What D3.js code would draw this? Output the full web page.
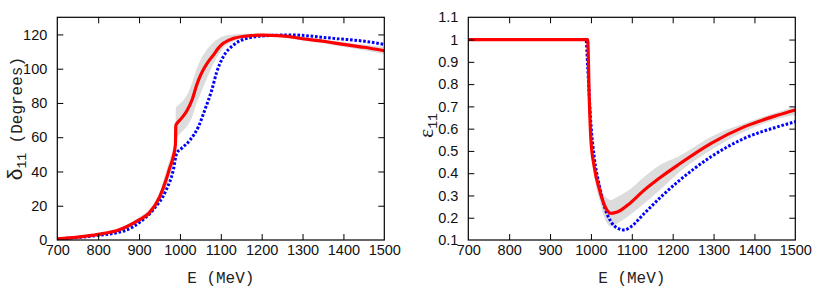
<!DOCTYPE html>
<html>
<head>
<meta charset="utf-8">
<script src="https://cdn.jsdelivr.net/npm/d3@7"></script>
<style>
  body { margin: 0; background: #fff; }
  svg { display: block; }
  .mono { font-family: "Liberation Mono", "Courier New", monospace; }
</style>
</head>
<body>
<svg width="822" height="288"></svg>
<script>
// ---- left panel: phase shift delta_11 (degrees) ----
const PHASE_E    = [700, 750, 800, 850, 900, 925, 950, 966, 975, 984, 989, 990, 1000, 1016, 1030, 1041, 1050, 1061, 1072, 1082, 1094, 1106, 1131, 1172, 1200, 1250, 1300, 1350, 1400, 1450, 1500];
const PHASE_RED  = [0.6, 1.7, 3.3, 5.8, 11.7, 15.8, 25, 35, 42, 49, 56, 67, 70, 75, 82, 90.5, 96, 101, 105, 108, 112, 114.8, 117.7, 119.3, 119.6, 119.2, 117.5, 116, 114.2, 112.5, 110.5];
const PHASE_LO   = [0.4, 1.3, 2.6, 4.9, 10.2, 14, 22.5, 31, 37.5, 44, 51, 58, 62, 66, 72, 80, 85, 91.5, 97.5, 103, 108, 112, 116, 118.2, 118.8, 118.3, 116.5, 114.8, 112.8, 110.7, 108.5];
const PHASE_HI   = [0.8, 2.1, 4.0, 6.8, 13.2, 17.8, 27.5, 40, 47, 53, 60, 77, 79.5, 84, 92, 100, 105, 109.5, 113, 115.5, 117.5, 119, 120, 120.6, 120.5, 120.2, 118.6, 117.2, 115.5, 114.1, 112.6];
const PHASE_BLUE = [700, 750, 800, 869, 900, 934, 966, 984, 992, 1004, 1025, 1045, 1061, 1078, 1090, 1106, 1131, 1164, 1213, 1270, 1376, 1458, 1500];
const PHASE_BLUE_V = [0.6, 1.5, 2.7, 5.8, 10, 17.5, 29, 41, 50.6, 53.5, 58.4, 66, 76, 87.6, 98, 107, 113.8, 117.7, 119.3, 119.7, 117.7, 115.8, 114.2];

// ---- right panel: inelasticity eta_11 ----
const INEL_E    = [700, 800, 900, 990, 992, 996, 1000, 1008, 1021, 1033, 1049, 1066, 1090, 1131, 1172, 1213, 1294, 1376, 1458, 1500];
const INEL_RED  = [1, 1, 1, 1, 1, 0.73, 0.55, 0.43, 0.325, 0.257, 0.22, 0.227, 0.257, 0.325, 0.384, 0.437, 0.534, 0.609, 0.661, 0.684];
const INEL_LO   = [1, 1, 1, 1, 1, 0.71, 0.52, 0.39, 0.28, 0.2, 0.16, 0.175, 0.205, 0.265, 0.33, 0.4, 0.504, 0.587, 0.645, 0.661];
const INEL_HI   = [1, 1, 1, 1, 1, 0.75, 0.58, 0.47, 0.37, 0.3, 0.28, 0.295, 0.32, 0.384, 0.44, 0.474, 0.564, 0.624, 0.675, 0.699];
const INEL_BLUE = [700, 800, 900, 988, 992, 1000, 1008, 1021, 1033, 1049, 1066, 1082, 1098, 1131, 1172, 1213, 1294, 1376, 1458, 1500];
const INEL_BLUE_V = [1, 1, 1, 1, 0.88, 0.62, 0.474, 0.34, 0.25, 0.182, 0.152, 0.145, 0.16, 0.22, 0.295, 0.362, 0.474, 0.557, 0.609, 0.631];

const X_TICKS = [700, 800, 900, 1000, 1100, 1200, 1300, 1400, 1500];
const PHASE_TICKS = [0, 20, 40, 60, 80, 100, 120];
const INEL_TICKS = [0.1, 0.2, 0.3, 0.4, 0.5, 0.6, 0.7, 0.8, 0.9, 1, 1.1];

const PLOT_W = 327, PLOT_H = 222.7, TOP = 17.3, TICK = 6;
const svg = d3.select('svg');

function drawPanel(left, yDomain, yTicks, band, red, blue, ylabel) {
  const x = d3.scaleLinear().domain([700, 1500]).range([0, PLOT_W]);
  const y = d3.scaleLinear().domain(yDomain).range([PLOT_H, 0]);
  const g = svg.append('g').attr('transform', `translate(${left},${TOP})`);

  const clip = 'clip' + Math.round(left);
  g.append('clipPath').attr('id', clip).append('rect').attr('width', PLOT_W).attr('height', PLOT_H);
  const plot = g.append('g').attr('clip-path', `url(#${clip})`);

  // error band
  plot.append('path')
    .datum(band)
    .attr('fill', '#dcdcdc')
    .attr('d', d3.area().x(d => x(d.e)).y0(d => y(d.lo)).y1(d => y(d.hi)).curve(d3.curveMonotoneX));

  // blue dotted
  plot.append('path')
    .datum(blue)
    .attr('fill', 'none')
    .attr('stroke', '#0000ff')
    .attr('stroke-width', 3)
    .attr('stroke-dasharray', '2.6 1.8')
    .attr('d', d3.line().x(d => x(d.e)).y(d => y(d.v)).curve(d3.curveMonotoneX));

  // red solid
  plot.append('path')
    .datum(red)
    .attr('fill', 'none')
    .attr('stroke', '#ff0000')
    .attr('stroke-width', 3.2)
    .attr('stroke-linejoin', 'round')
    .attr('d', d3.line().x(d => x(d.e)).y(d => y(d.v)).curve(d3.curveMonotoneX));

  // axes: gnuplot style, inward ticks mirrored on all sides
  g.append('g').attr('transform', `translate(0,${PLOT_H})`)
    .call(d3.axisBottom(x).tickValues(X_TICKS).tickSize(-TICK).tickSizeOuter(0).tickPadding(5).tickFormat(d3.format('d')));
  g.append('g')
    .call(d3.axisTop(x).tickValues(X_TICKS).tickSize(-TICK).tickSizeOuter(0).tickFormat(''));
  g.append('g')
    .call(d3.axisLeft(y).tickValues(yTicks).tickSize(-TICK).tickSizeOuter(0).tickPadding(10).tickFormat(d3.format('~g')));
  g.append('g').attr('transform', `translate(${PLOT_W},0)`)
    .call(d3.axisRight(y).tickValues(yTicks).tickSize(-TICK).tickSizeOuter(0).tickFormat(''));
  g.selectAll('.domain').remove();
  g.selectAll('.tick line').attr('stroke', '#000');
  g.selectAll('.tick text')
    .attr('font-family', 'Liberation Sans, Arial, sans-serif')
    .attr('font-size', 14.5)
    .attr('fill', '#111');
  g.selectAll('.tick').filter(d => d === 700 || d === 1500 || d === yDomain[0] || d === yDomain[1]).select('line').remove();

  g.append('rect').attr('width', PLOT_W).attr('height', PLOT_H)
    .attr('fill', 'none').attr('stroke', '#000').attr('stroke-width', 1.2);

  g.append('text')
    .attr('class', 'mono')
    .attr('x', PLOT_W / 2).attr('y', PLOT_H + 43)
    .attr('text-anchor', 'middle')
    .attr('font-size', 16).attr('fill', '#222')
    .text('E (MeV)');

  ylabel(g);
}

drawPanel(57.3, [0, 130], PHASE_TICKS,
  PHASE_E.map((e, i) => ({ e, lo: PHASE_LO[i], hi: PHASE_HI[i] })),
  PHASE_E.map((e, i) => ({ e, v: PHASE_RED[i] })),
  PHASE_BLUE.map((e, i) => ({ e, v: PHASE_BLUE_V[i] })),
  g => {
    const t = g.append('text')
      .attr('transform', `translate(-35,${PLOT_H / 2 - 10}) rotate(-90)`)
      .attr('text-anchor', 'middle').attr('fill', '#222');
    t.append('tspan').attr('font-family', 'Liberation Sans, sans-serif').attr('font-size', 21).text('δ');
    t.append('tspan').attr('class', 'mono').attr('font-size', 13).attr('dy', 4).text('11');
    t.append('tspan').attr('class', 'mono').attr('font-size', 16).attr('dy', -4).text(' (Degrees)');
  });

drawPanel(468.3, [0.1, 1.1], INEL_TICKS,
  INEL_E.map((e, i) => ({ e, lo: INEL_LO[i], hi: INEL_HI[i] })),
  INEL_E.map((e, i) => ({ e, v: INEL_RED[i] })),
  INEL_BLUE.map((e, i) => ({ e, v: INEL_BLUE_V[i] })),
  g => {
    const t = g.append('text')
      .attr('transform', `translate(-35,${PLOT_H / 2 - 3}) rotate(-90)`)
      .attr('text-anchor', 'middle').attr('fill', '#222');
    t.append('tspan').attr('font-family', 'Liberation Serif, serif').attr('font-size', 22).text('ε');
    t.append('tspan').attr('class', 'mono').attr('font-size', 13).attr('dy', 4).text('11');
  });
</script>
</body>
</html>
